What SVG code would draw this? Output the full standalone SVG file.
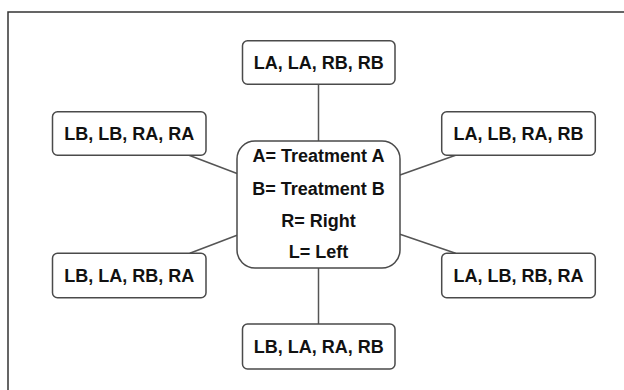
<svg xmlns="http://www.w3.org/2000/svg" width="624" height="390" viewBox="0 0 624 390">
<style>
.box{fill:#fff;stroke:#4a4a4a;stroke-width:1.5}
.lbl{font-family:"Liberation Sans",Arial,sans-serif;font-weight:bold;font-size:18px;fill:#111;text-anchor:middle}
.conn line{stroke:#555;stroke-width:1.5}
</style>
<rect x="0" y="0" width="624" height="390" fill="#fff"/>
<rect x="8" y="12" width="700" height="500" fill="none" stroke="#333" stroke-width="1.5"/>
<g id="connectors" class="conn">
<line x1="318.5" y1="84" x2="318.5" y2="141"/>
<line x1="318.5" y1="268" x2="318.5" y2="324"/>
<line x1="189" y1="155.3" x2="237" y2="173.5"/>
<line x1="455.6" y1="155.3" x2="400" y2="175"/>
<line x1="237" y1="235.3" x2="189.8" y2="253.3"/>
<line x1="400" y1="234.3" x2="455.6" y2="253.3"/>
</g>
<g id="center">
<rect class="box" x="237" y="141" width="163" height="127" rx="18"/>
<text class="lbl" x="318.5" y="162.3">A= Treatment A</text>
<text class="lbl" x="318.5" y="195">B= Treatment B</text>
<text class="lbl" x="318.5" y="226.7">R= Right</text>
<text class="lbl" x="318.5" y="258.3">L= Left</text>
</g>
<g id="top">
<rect class="box" x="242.5" y="40.7" width="152.5" height="43.5" rx="5"/>
<text class="lbl" x="318.7" y="68.5">LA, LA, RB, RB</text>
</g>
<g id="upper-left">
<rect class="box" x="52.5" y="111.7" width="153.5" height="43.6" rx="5"/>
<text class="lbl" x="129.2" y="139.7">LB, LB, RA, RA</text>
</g>
<g id="upper-right">
<rect class="box" x="441.7" y="111.7" width="153.6" height="43.6" rx="5"/>
<text class="lbl" x="518.5" y="139.7">LA, LB, RA, RB</text>
</g>
<g id="lower-left">
<rect class="box" x="52.5" y="253.3" width="153.5" height="44.5" rx="5"/>
<text class="lbl" x="129.2" y="281.7">LB, LA, RB, RA</text>
</g>
<g id="lower-right">
<rect class="box" x="441.7" y="253.3" width="153.6" height="44.5" rx="5"/>
<text class="lbl" x="518.5" y="281.7">LA, LB, RB, RA</text>
</g>
<g id="bottom">
<rect class="box" x="242.5" y="324" width="152.5" height="45" rx="5"/>
<text class="lbl" x="318.7" y="352.7">LB, LA, RA, RB</text>
</g>
</svg>
